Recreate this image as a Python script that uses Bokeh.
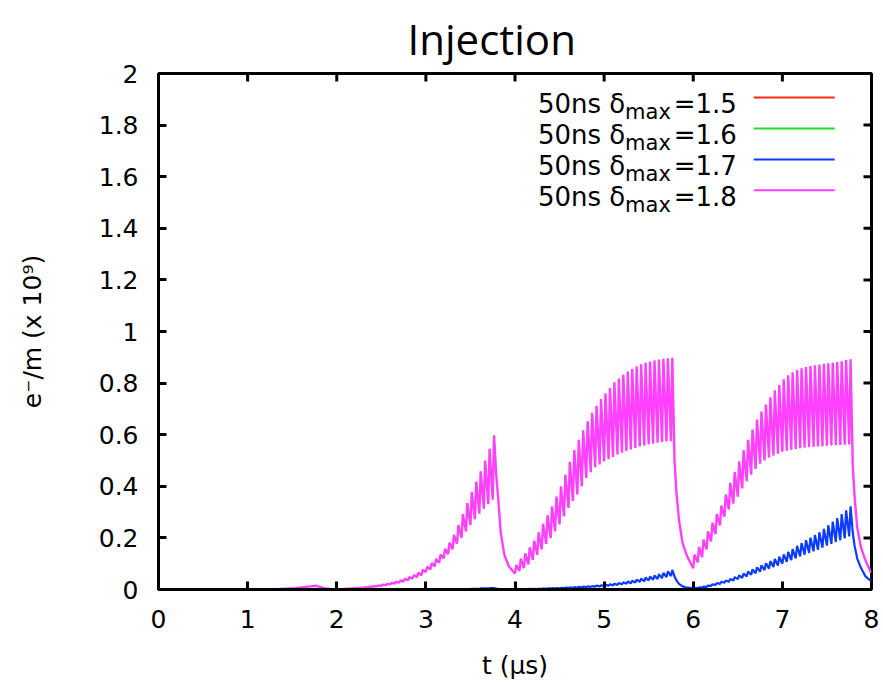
import math

from bokeh.plotting import figure
from bokeh.models import Range1d, FixedTicker, NumeralTickFormatter
from bokeh.core.properties import value
from bokeh.embed import file_html
from bokeh.resources import INLINE

# ---------------------------------------------------------------------------
# Electron-cloud build-up during injection: four trains of 36 bunches,
# 50 ns bunch spacing. For every bunch the line density just before the
# bunch passage (trough) and right after it (peak) is listed; after the last
# bunch of each train the cloud decays during the gap (tail values).
# Units: time in microseconds, density in 1e9 electrons per metre.
# ---------------------------------------------------------------------------
TRAIN_STARTS = [0.0, 2.0, 4.0, 6.0]
BUNCH_SPACING = 0.05          # us (50 ns)
TRAIN_LENGTH = 1.75           # us, time of the last bunch after train start
RISE = 0.015                  # us, rise time during a bunch passage
TAIL_DT = [0.04, 0.06, 0.09, 0.13, 0.18, 0.245]   # us after the last bunch

# delta_max = 1.8 (magenta)
MAG_PEAKS = [
    [0.0, 0.0, 0.0, 0.0, 0.0, 0.0, 0.0, 0.0, 0.0, 0.0,
     0.0, 0.0, 0.0, 0.0, 0.0, 0.0, 0.0, 0.0, 0.0, 0.0,
     0.0, 0.0, 0.0, 0.0, 0.0, 0.0, 0.001, 0.002, 0.003, 0.004,
     0.005, 0.007, 0.009, 0.011, 0.013, 0.015],
    [0.001, 0.002, 0.003, 0.004, 0.005, 0.007, 0.009, 0.011, 0.013, 0.016,
     0.019, 0.022, 0.026, 0.030, 0.035, 0.041, 0.048, 0.056, 0.065, 0.076,
     0.088, 0.102, 0.118, 0.136, 0.157, 0.182, 0.212, 0.250, 0.292, 0.335,
     0.378, 0.418, 0.458, 0.500, 0.545, 0.598],
    [0.095, 0.120, 0.140, 0.163, 0.190, 0.222, 0.255, 0.288, 0.322, 0.360,
     0.400, 0.445, 0.495, 0.540, 0.580, 0.617, 0.652, 0.685, 0.712, 0.738,
     0.760, 0.782, 0.803, 0.818, 0.832, 0.845, 0.855, 0.865, 0.873, 0.879,
     0.884, 0.888, 0.891, 0.894, 0.896, 0.898],
    [0.135, 0.165, 0.193, 0.225, 0.258, 0.292, 0.325, 0.368, 0.413, 0.455,
     0.497, 0.540, 0.580, 0.620, 0.659, 0.690, 0.717, 0.745, 0.772, 0.793,
     0.815, 0.830, 0.842, 0.851, 0.857, 0.862, 0.866, 0.869, 0.872, 0.875,
     0.877, 0.879, 0.882, 0.885, 0.889, 0.892],
]
MAG_TROUGHS = [
    [0.0, 0.0, 0.0, 0.0, 0.0, 0.0, 0.0, 0.0, 0.0, 0.0,
     0.0, 0.0, 0.0, 0.0, 0.0, 0.0, 0.0, 0.0, 0.0, 0.0,
     0.0, 0.0, 0.0, 0.0, 0.0, 0.0, 0.001, 0.001, 0.002, 0.003,
     0.004, 0.005, 0.007, 0.009, 0.011, 0.013],
    [0.000, 0.001, 0.002, 0.003, 0.004, 0.005, 0.006, 0.008, 0.010, 0.012,
     0.014, 0.017, 0.020, 0.023, 0.027, 0.031, 0.036, 0.042, 0.048, 0.055,
     0.068, 0.078, 0.090, 0.104, 0.120, 0.137, 0.156, 0.178, 0.200, 0.225,
     0.250, 0.272, 0.294, 0.313, 0.331, 0.348],
    [0.063, 0.072, 0.083, 0.097, 0.115, 0.135, 0.155, 0.177, 0.199, 0.225,
     0.252, 0.283, 0.316, 0.343, 0.368, 0.400, 0.432, 0.455, 0.474, 0.485,
     0.496, 0.505, 0.514, 0.523, 0.530, 0.537, 0.543, 0.549, 0.554, 0.558,
     0.562, 0.565, 0.569, 0.572, 0.574, 0.575],
    [0.083, 0.105, 0.125, 0.155, 0.186, 0.215, 0.248, 0.282, 0.310, 0.333,
     0.360, 0.392, 0.420, 0.445, 0.467, 0.488, 0.500, 0.511, 0.519, 0.526,
     0.534, 0.538, 0.542, 0.545, 0.548, 0.550, 0.552, 0.553, 0.554, 0.555,
     0.557, 0.558, 0.559, 0.560, 0.561, 0.562],
]
MAG_TAILS = [
    [0.012, 0.010, 0.007, 0.004, 0.002, 0.001],
    [0.44, 0.36, 0.22, 0.135, 0.09, 0.064],
    [0.50, 0.38, 0.27, 0.18, 0.13, 0.085],
    [0.48, 0.36, 0.24, 0.165, 0.115, 0.065],
]

# delta_max = 1.7 (blue)
BLUE_PEAKS = [
    [0.0] * 36,
    [0.0, 0.0, 0.0, 0.0, 0.0, 0.0, 0.0, 0.0, 0.0, 0.0,
     0.0, 0.0, 0.0, 0.0, 0.0, 0.0, 0.0, 0.0, 0.0, 0.0,
     0.0, 0.0, 0.0, 0.0, 0.0, 0.0, 0.001, 0.001, 0.002, 0.002,
     0.003, 0.003, 0.004, 0.004, 0.005, 0.006],
    [0.002, 0.002, 0.002, 0.003, 0.003, 0.003, 0.004, 0.004, 0.005, 0.005,
     0.006, 0.007, 0.008, 0.009, 0.010, 0.011, 0.012, 0.013, 0.015, 0.016,
     0.018, 0.020, 0.022, 0.025, 0.028, 0.031, 0.034, 0.038, 0.042, 0.046,
     0.050, 0.054, 0.059, 0.064, 0.070, 0.076],
    [0.006, 0.008, 0.011, 0.015, 0.020, 0.025, 0.030, 0.035, 0.041, 0.048,
     0.055, 0.062, 0.070, 0.078, 0.086, 0.094, 0.102, 0.110, 0.118, 0.127,
     0.136, 0.146, 0.157, 0.169, 0.180, 0.191, 0.201, 0.211, 0.222, 0.235,
     0.249, 0.263, 0.277, 0.292, 0.307, 0.322],
]
BLUE_TROUGHS = [
    [0.0] * 36,
    [0.0, 0.0, 0.0, 0.0, 0.0, 0.0, 0.0, 0.0, 0.0, 0.0,
     0.0, 0.0, 0.0, 0.0, 0.0, 0.0, 0.0, 0.0, 0.0, 0.0,
     0.0, 0.0, 0.0, 0.0, 0.0, 0.0, 0.000, 0.001, 0.001, 0.002,
     0.002, 0.003, 0.003, 0.004, 0.004, 0.005],
    [0.001, 0.001, 0.001, 0.002, 0.002, 0.002, 0.003, 0.003, 0.004, 0.004,
     0.004, 0.005, 0.006, 0.006, 0.007, 0.008, 0.009, 0.010, 0.011, 0.012,
     0.013, 0.015, 0.016, 0.018, 0.020, 0.022, 0.024, 0.027, 0.030, 0.032,
     0.035, 0.038, 0.041, 0.044, 0.048, 0.052],
    [0.004, 0.005, 0.007, 0.010, 0.014, 0.018, 0.022, 0.026, 0.030, 0.035,
     0.040, 0.045, 0.051, 0.057, 0.063, 0.069, 0.075, 0.081, 0.087, 0.093,
     0.100, 0.107, 0.114, 0.121, 0.128, 0.135, 0.142, 0.148, 0.154, 0.162,
     0.170, 0.177, 0.184, 0.191, 0.198, 0.206],
]
BLUE_TAILS = [
    [0.0, 0.0, 0.0, 0.0, 0.0, 0.0],
    [0.004, 0.003, 0.002, 0.001, 0.001, 0.001],
    [0.050, 0.036, 0.022, 0.012, 0.007, 0.005],
    [0.22, 0.17, 0.12, 0.085, 0.052, 0.032],
]

# delta_max = 1.5 and 1.6 stay at zero over the whole injection
RED_T = [0.0, 8.0]
RED_V = [0.0, 0.0]
GREEN_T = [0.0, 8.0]
GREEN_V = [0.0, 0.0]

LEGEND_LABELS = ["1.5", "1.6", "1.7", "1.8"]
COLORS = ["#ff2a10", "#22dd22", "#0a3cff", "#ff40ff"]

X_TICKS = [0, 1, 2, 3, 4, 5, 6, 7, 8]
Y_TICKS = [0, 0.2, 0.4, 0.6, 0.8, 1.0, 1.2, 1.4, 1.6, 1.8, 2.0]

TITLE = "Injection"
FONT = "DejaVu Sans"
TICK_LEN = 8


def build_trace(peaks, troughs, tails):
    xs, ys = [], []
    for t0, pk, tr, tail in zip(TRAIN_STARTS, peaks, troughs, tails):
        for k, (lo, hi) in enumerate(zip(tr, pk)):
            t = t0 + k * BUNCH_SPACING
            xs += [t, t + RISE]
            ys += [lo, hi]
        for dt, v in zip(TAIL_DT, tail):
            xs.append(t0 + TRAIN_LENGTH + dt)
            ys.append(v)
    return xs, ys


p = figure(width=883, height=685,
           x_range=Range1d(0, 8), y_range=Range1d(0, 2),
           output_backend="svg", toolbar_location=None,
           min_border_left=158, min_border_right=12,
           min_border_top=73, min_border_bottom=96)
p.background_fill_color = "white"
p.border_fill_color = "white"
p.outline_line_color = "black"
p.outline_line_width = 3
p.xgrid.visible = False
p.ygrid.visible = False

# title
p.title.text = TITLE
p.title.text_font = "Open Sans"
p.title.text_font_size = "42px"
p.title.text_font_style = "normal"
p.title.text_color = "black"
p.title.align = "left"
p.title.offset = 249
p.title.vertical_align = "top"
p.title.standoff = 10

# axes: thick black lines on the bottom and left edges, inward ticks
for ax in (p.xaxis[0], p.yaxis[0]):
    ax.axis_line_color = "black"
    ax.axis_line_width = 3
    ax.major_tick_in = TICK_LEN
    ax.major_tick_out = 0
    ax.major_tick_line_width = 3
    ax.major_tick_line_color = "black"
    ax.minor_tick_line_color = None
    ax.major_label_text_font = FONT
    ax.major_label_text_font_size = "25px"
    ax.major_label_text_color = "black"
    ax.axis_label_text_font = FONT
    ax.axis_label_text_font_size = "25px"
    ax.axis_label_text_font_style = "normal"
    ax.axis_label_text_color = "black"

p.xaxis[0].ticker = FixedTicker(ticks=X_TICKS)
p.xaxis[0].major_label_standoff = 20
p.xaxis[0].axis_label = "t (\u03bcs)"
p.xaxis[0].axis_label_standoff = 20

p.yaxis[0].ticker = FixedTicker(ticks=Y_TICKS)
p.yaxis[0].formatter = NumeralTickFormatter(format="0.[0]")
p.yaxis[0].major_label_standoff = 20
p.yaxis[0].axis_label = "e\u207b/m (x 10\u2079)"
p.yaxis[0].axis_label_standoff = 49

# data lines (drawn in legend order, last one on top)
p.line(RED_T, RED_V, line_color=COLORS[0], line_width=2)
p.line(GREEN_T, GREEN_V, line_color=COLORS[1], line_width=2)
bx, by = build_trace(BLUE_PEAKS, BLUE_TROUGHS, BLUE_TAILS)
p.line(bx, by, line_color=COLORS[2], line_width=2.2)
mx, my = build_trace(MAG_PEAKS, MAG_TROUGHS, MAG_TAILS)
p.line(mx, my, line_color=COLORS[3], line_width=2.4)

# mirrored inward ticks on the top and right edges
p.ray(x=X_TICKS, y=[2.0] * len(X_TICKS), length=TICK_LEN, length_units="screen",
      angle=-math.pi / 2, line_color="black", line_width=3)
p.ray(x=[8.0] * len(Y_TICKS), y=Y_TICKS, length=TICK_LEN, length_units="screen",
      angle=math.pi, line_color="black", line_width=3)

# legend: "50ns δ_max=x.x" with a subscript, sample line on the right
ROW_Y = [1.907, 1.787, 1.667, 1.547]
TEXT_X = 4.257      # left edge of the legend text
SUB_X = 5.235       # left edge of the "max" subscript
EQ_X = 5.780        # left edge of "=x.x"
SAMPLE_X0, SAMPLE_X1 = 6.678, 7.587
BASE_DROP = 7       # px from line centre to text baseline

n = len(LEGEND_LABELS)
p.text(x=[TEXT_X] * n, y=ROW_Y, text=["50ns \u03b4"] * n,
       text_font=value(FONT), text_font_size="26px", text_color="black",
       text_align="left", text_baseline="alphabetic", y_offset=BASE_DROP)
p.text(x=[SUB_X] * n, y=ROW_Y, text=["max"] * n,
       text_font=value(FONT), text_font_size="21px", text_color="black",
       text_align="left", text_baseline="alphabetic", y_offset=BASE_DROP + 8)
p.text(x=[EQ_X] * n, y=ROW_Y, text=["=" + s for s in LEGEND_LABELS],
       text_font=value(FONT), text_font_size="26px", text_color="black",
       text_align="left", text_baseline="alphabetic", y_offset=BASE_DROP)
p.segment(x0=[SAMPLE_X0] * n, y0=ROW_Y, x1=[SAMPLE_X1] * n, y1=ROW_Y,
          line_color=COLORS, line_width=2)

open("out.html", "w").write(file_html(p, INLINE))
